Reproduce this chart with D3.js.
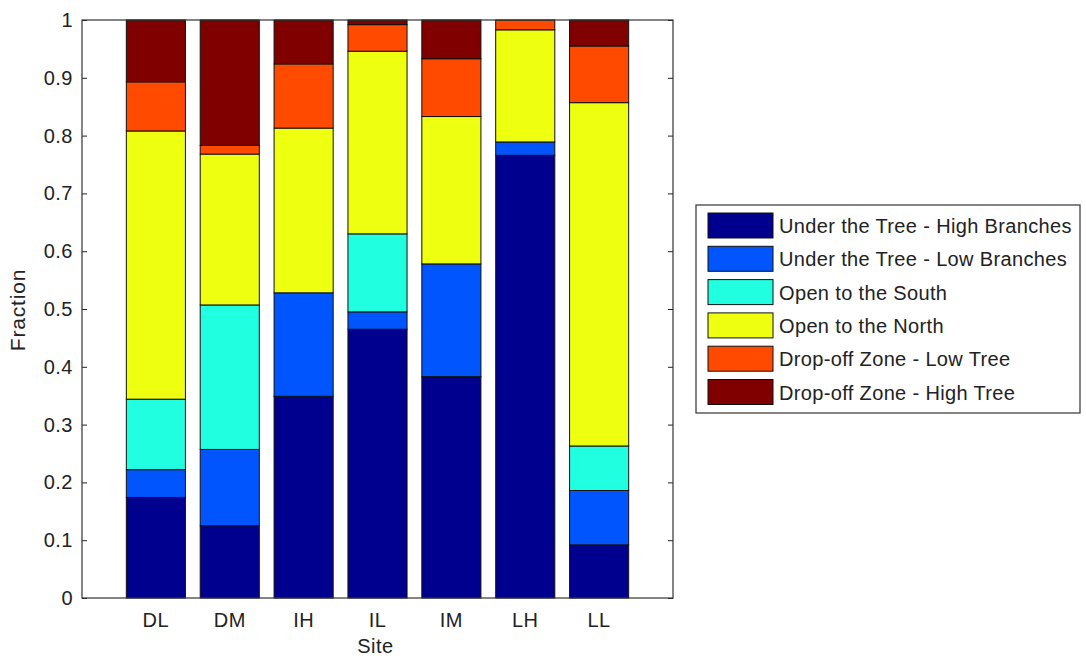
<!DOCTYPE html>
<html>
<head>
<meta charset="utf-8">
<script src="https://cdn.jsdelivr.net/npm/d3@7"></script>
<style>
  body { margin: 0; background: #fff; }
  svg text { font-family: "Liberation Sans", Arial, sans-serif; fill: #222; }
</style>
</head>
<body>
<div class="chart"></div>
<script>
// sites and stacked fractions (bottom to top)
var sites = ["DL", "DM", "IH", "IL", "IM", "LH", "LL"];
var zones = ["Under the Tree - High Branches", "Under the Tree - Low Branches",
             "Open to the South", "Open to the North",
             "Drop-off Zone - Low Tree", "Drop-off Zone - High Tree"];
var highBranches = [0.174, 0.125, 0.349, 0.465, 0.383, 0.766, 0.092];
var lowBranches  = [0.048, 0.132, 0.179, 0.030, 0.195, 0.023, 0.094];
var openSouth    = [0.122, 0.250, 0.000, 0.135, 0.000, 0.000, 0.077];
var openNorth    = [0.464, 0.261, 0.285, 0.316, 0.255, 0.194, 0.594];
var lowTree      = [0.085, 0.015, 0.111, 0.046, 0.100, 0.017, 0.098];
var highTree     = [0.107, 0.217, 0.076, 0.008, 0.067, 0.000, 0.045];
var yTicks = [0, 0.1, 0.2, 0.3, 0.4, 0.5, 0.6, 0.7, 0.8, 0.9, 1];

var colors = ["#00008f", "#0055ff", "#20ffdf", "#efff10", "#ff4a00", "#800000"];
var series = [highBranches, lowBranches, openSouth, openNorth, lowTree, highTree];

var W = 1086, H = 659;
var pLeft = 82, pRight = 673, pTop = 20, pBottom = 598;

var svg = d3.select(".chart").append("svg")
    .attr("width", W).attr("height", H);

// table for d3.stack
var table = sites.map(function(s, i) {
    var row = { site: s };
    zones.forEach(function(z, k) { row[z] = series[k][i]; });
    return row;
});
var stacked = d3.stack().keys(zones)(table);

var x = d3.scaleLinear().domain([0, sites.length + 1]).range([pLeft, pRight]);
var y = d3.scaleLinear().domain([0, 1]).range([pBottom, pTop]);
var barW = (x(1) - x(0)) * 0.8;

// y axis ticks on both sides, pointing inward
svg.append("g")
    .attr("transform", "translate(" + pLeft + ",0)")
    .call(d3.axisRight(y).tickValues(yTicks).tickSize(5).tickFormat(""))
    .call(g => g.select(".domain").remove())
    .selectAll("line").attr("stroke", "#222");
svg.append("g")
    .attr("transform", "translate(" + pRight + ",0)")
    .call(d3.axisLeft(y).tickValues(yTicks).tickSize(5).tickFormat(""))
    .call(g => g.select(".domain").remove())
    .selectAll("line").attr("stroke", "#222");

// y tick labels
svg.append("g").selectAll("text")
    .data(yTicks).enter().append("text")
    .attr("x", pLeft - 9)
    .attr("y", d => y(d) + 7)
    .attr("text-anchor", "end")
    .style("font-size", "20px")
    .style("letter-spacing", "0.5px")
    .text(d => d === 0 || d === 1 ? d : d.toFixed(1));

// x tick labels
svg.append("g").selectAll("text")
    .data(sites).enter().append("text")
    .attr("x", (d, i) => x(i + 1))
    .attr("y", pBottom + 29)
    .attr("text-anchor", "middle")
    .style("font-size", "20px")
    .style("letter-spacing", "0.5px")
    .text(d => d);

// bars
stacked.forEach(function(layer, k) {
    svg.append("g").selectAll("rect")
        .data(layer.filter(d => d[1] - d[0] > 0)).enter().append("rect")
        .attr("x", d => x(sites.indexOf(d.data.site) + 1) - barW / 2)
        .attr("y", d => y(d[1]))
        .attr("width", barW)
        .attr("height", d => y(d[0]) - y(d[1]))
        .attr("fill", colors[k])
        .attr("stroke", "#111")
        .attr("stroke-width", 1);
});

// frame
svg.append("rect")
    .attr("x", pLeft).attr("y", pTop)
    .attr("width", pRight - pLeft).attr("height", pBottom - pTop)
    .attr("fill", "none").attr("stroke", "#333").attr("stroke-width", 1.2);

// axis titles
svg.append("text")
    .attr("x", (pLeft + pRight) / 2 - 2).attr("y", 653)
    .attr("text-anchor", "middle").style("font-size", "20px")
    .style("letter-spacing", "0.5px")
    .text("Site");
svg.append("text")
    .attr("transform", "translate(25," + ((pTop + pBottom) / 2 + 1) + ") rotate(-90)")
    .attr("text-anchor", "middle").style("font-size", "21px")
    .style("letter-spacing", "0.8px")
    .text("Fraction");

// legend
var lg = svg.append("g").attr("transform", "translate(696,205)");
lg.append("rect")
    .attr("width", 384).attr("height", 208)
    .attr("fill", "#fff").attr("stroke", "#333").attr("stroke-width", 1.2);
var items = lg.selectAll("g.item").data(zones).enter().append("g")
    .attr("transform", (d, i) => "translate(12," + (8 + i * 33.3) + ")");
items.append("rect")
    .attr("width", 65).attr("height", 25)
    .attr("fill", (d, i) => colors[i])
    .attr("stroke", "#111").attr("stroke-width", 1);
items.append("text")
    .attr("x", 71).attr("y", 20)
    .style("font-size", "20px")
    .style("letter-spacing", "0.35px")
    .text(d => d);
</script>
</body>
</html>
